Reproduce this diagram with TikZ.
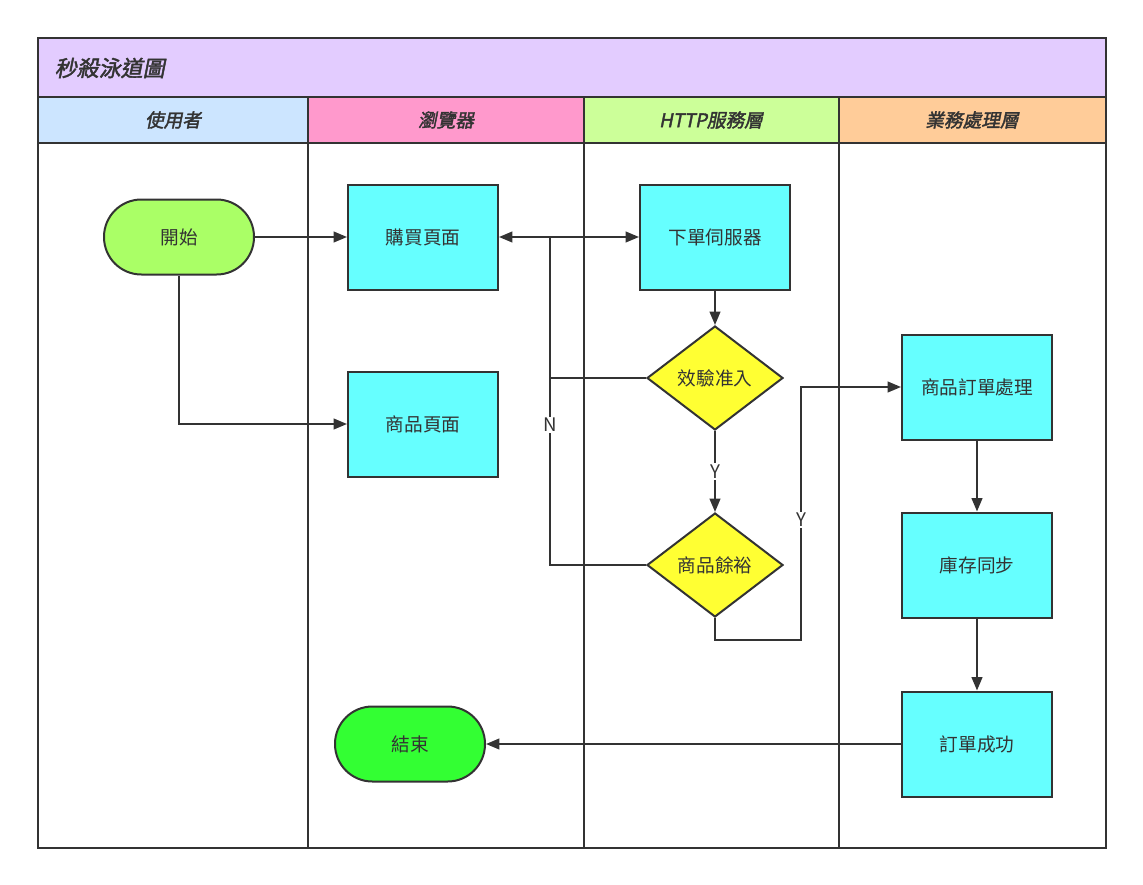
\documentclass[tikz,border=0pt]{standalone}
\usepackage{fontspec}
\setmainfont{Noto Sans CJK TC}
\newfontfamily\hdr[FakeSlant=0.2,FakeBold=2]{Noto Sans CJK TC}
\usetikzlibrary{shapes.geometric,arrows.meta}
\definecolor{ttl}{HTML}{E3CCFF}
\definecolor{hA}{HTML}{CCE5FF}
\definecolor{hB}{HTML}{FF99CC}
\definecolor{hC}{HTML}{CCFF99}
\definecolor{hD}{HTML}{FFCC99}
\definecolor{cy}{HTML}{66FFFF}
\definecolor{ln}{HTML}{333333}
\definecolor{gA}{HTML}{AAFF66}
\definecolor{gB}{HTML}{33FF33}
\definecolor{yl}{HTML}{FFFF33}
\begin{document}
\begin{tikzpicture}[x=0.75pt,y=-0.75pt,
  every node/.style={font=\fontsize{14}{16}\selectfont, text=ln},
  box/.style={draw=ln,line width=1.5pt,fill=cy,minimum width=112.5pt,minimum height=78.75pt},
  term/.style={draw=ln,line width=1.5pt,rounded corners=28pt,minimum width=112.5pt,minimum height=56.25pt},
  dia/.style={draw=ln,line width=1.5pt,fill=yl,diamond,aspect=1.31,minimum width=102pt,minimum height=78pt,inner sep=0pt},
  tip/.style={},
  arr/.style={draw=ln,line width=1.5pt,-{Triangle[length=10pt,width=8pt]}},
  hd/.style={font=\hdr\fontsize{14}{16}\selectfont}]
\useasboundingbox (0,0) rectangle (1143,885);
% lanes
\fill[ttl] (38,38) rectangle (1106,97);
\fill[hA] (38,97) rectangle (308,143);
\fill[hB] (308,97) rectangle (584,143);
\fill[hC] (584,97) rectangle (839,143);
\fill[hD] (839,97) rectangle (1106,143);
\draw[ln,line width=1.8pt] (38,38) rectangle (1106,848);
\draw[ln,line width=1.8pt] (38,97) -- (1106,97) (38,143) -- (1106,143);
\draw[ln,line width=1.8pt] (308,97) -- (308,848) (584,97) -- (584,848) (839,97) -- (839,848);
\node[hd,anchor=west,font=\hdr\fontsize{16.5}{18}\selectfont] (title) at (50,68) {秒殺泳道圖};
\node[hd] (l1) at (173,120) {使用者};
\node[hd] (l2) at (446,120) {瀏覽器};
\node[hd] (l3) at (711,120) {HTTP服務層};
\node[hd] (l4) at (972,120) {業務處理層};
% nodes
\node[term,fill=gA] (start) at (179,237) {開始};
\node[box] (buy) at (423,237) {購買頁面};
\node[box] (prod) at (423,424) {商品頁面};
\node[box] (srv) at (715,237) {下單伺服器};
\node[dia] (chk) at (715,378) {效驗准入};
\node[dia] (rem) at (715,565) {商品餘裕};
\node[box] (ord) at (977,387) {商品訂單處理};
\node[box] (stk) at (977,565) {庫存同步};
\node[box] (ok) at (977,744) {訂單成功};
\node[term,fill=gB] (end) at (410,744) {結束};
\coordinate (j1) at (550,237);
% edges
\draw[arr] (start) -- (buy);
\draw[arr] (start.south) |- (prod.west);
\draw[arr,{Triangle[length=10pt,width=8pt]}-{Triangle[length=10pt,width=8pt]}] (buy) -- (srv);
\draw[arr] (srv) -- (chk);
\draw[draw=ln,line width=1.5pt] (chk.west) -| (j1);
\draw[draw=ln,line width=1.5pt] (rem.west) -| (j1);
\node[fill=white,inner sep=1pt] (nl) at (550,425) {N};
\draw[arr] (chk) -- node[fill=white,inner sep=1pt] (yl) {Y} (rem);
\draw[arr] (rem.south) |- (801,640) |- (ord.west);
\node[fill=white,inner sep=1pt] (yl2) at (801,520) {Y};
\draw[arr] (ord) -- (stk);
\draw[arr] (stk) -- (ok);
\draw[arr] (ok) -- (end);
\end{tikzpicture}
\end{document}
